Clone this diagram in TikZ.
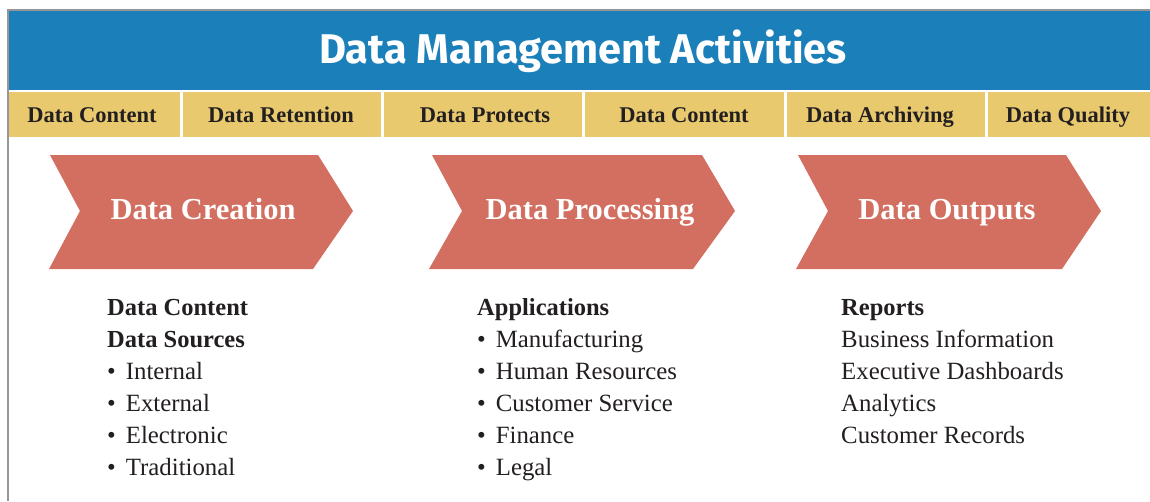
\documentclass[tikz,border=0pt]{standalone}
\usepackage{fontspec}
\setmainfont{Liberation Serif}
\newfontfamily\titlefont{Fira Sans}
\definecolor{bannerblue}{RGB}{27,127,185}
\definecolor{bandyellow}{RGB}{232,201,110}
\definecolor{chevred}{RGB}{211,111,96}
\definecolor{inkdark}{RGB}{35,31,32}
\definecolor{framegray}{RGB}{150,150,150}
\newcommand{\bulletitem}[1]{\textbullet\hspace{10pt}#1}
\tikzset{
  cell/.style={fill=bandyellow, draw=none},
  celltext/.style={font=\fontsize{22.5}{26}\selectfont\bfseries, text=inkdark, anchor=base, inner sep=0pt},
  chev/.style={fill=chevred, draw=none},
  chevtext/.style={font=\fontsize{30.5}{36}\selectfont\bfseries, text=white, anchor=base, inner sep=0pt},
  listhead/.style={font=\fontsize{24.5}{29}\selectfont\bfseries, text=inkdark, anchor=base west, inner sep=0pt},
  listitem/.style={font=\fontsize{24.8}{29}\selectfont, text=inkdark, anchor=base west, inner sep=0pt},
  titletext/.style={font=\titlefont\fontsize{41.5}{48}\selectfont\bfseries, text=white, anchor=base, inner sep=0pt}
}
\begin{document}
\begin{tikzpicture}[x=1pt,y=-1pt]
\useasboundingbox (0,0) rectangle (1150,501);
\fill[white] (0,0) rectangle (1150,501);
% frame lines
\draw[framegray, line width=1.6pt] (8,501) -- (8,10) -- (1150,10);
% banner
\fill[bannerblue] (9,11) rectangle (1150,90);
\node[titletext] (title) at (583,63) {Data Management Activities};
% yellow band cells
\fill[cell] (9,92) rectangle (180,137);
\fill[cell] (183,92) rectangle (381,137);
\fill[cell] (384,92) rectangle (582,137);
\fill[cell] (585,92) rectangle (784,137);
\fill[cell] (787,92) rectangle (985,137);
\fill[cell] (988,92) rectangle (1150,137);
\node[celltext] (c1) at (92,122) {Data Content};
\node[celltext] (c2) at (281,122) {Data Retention};
\node[celltext] (c3) at (485,122) {Data Protects};
\node[celltext] (c4) at (684,122) {Data Content};
\node[celltext] (c5) at (880,122) {Data Archiving};
\node[celltext] (c6) at (1068,122) {Data Quality};
% chevrons
\fill[chev] (50,155) -- (318,155) -- (353,211) -- (313,269) -- (49,269) -- (80,211) -- cycle;
\fill[chev] (432,155) -- (702,155) -- (735,211) -- (693,269) -- (429,269) -- (462,211) -- cycle;
\fill[chev] (798,155) -- (1066,155) -- (1101,211) -- (1062,269) -- (796,269) -- (828,211) -- cycle;
\node[chevtext] (k1) at (203,219) {Data Creation};
\node[chevtext] (k2) at (590,219) {Data Processing};
\node[chevtext] (k3) at (947,219) {Data Outputs};
% column 1
\node[listhead] (a1) at (107,315) {Data Content};
\node[listhead] (a2) at (107,347) {Data Sources};
\node[listitem] (a3) at (107,379) {\bulletitem{Internal}};
\node[listitem] (a4) at (107,411) {\bulletitem{External}};
\node[listitem] (a5) at (107,443) {\bulletitem{Electronic}};
\node[listitem] (a6) at (107,475) {\bulletitem{Traditional}};
% column 2
\node[listhead] (b1) at (477,315) {Applications};
\node[listitem] (b2) at (477,347) {\bulletitem{Manufacturing}};
\node[listitem] (b3) at (477,379) {\bulletitem{Human Resources}};
\node[listitem] (b4) at (477,411) {\bulletitem{Customer Service}};
\node[listitem] (b5) at (477,443) {\bulletitem{Finance}};
\node[listitem] (b6) at (477,475) {\bulletitem{Legal}};
% column 3
\node[listhead] (d1) at (841,315) {Reports};
\node[listitem] (d2) at (841,347) {Business Information};
\node[listitem] (d3) at (841,379) {Executive Dashboards};
\node[listitem] (d4) at (841,411) {Analytics};
\node[listitem] (d5) at (841,443) {Customer Records};
\end{tikzpicture}
\end{document}
